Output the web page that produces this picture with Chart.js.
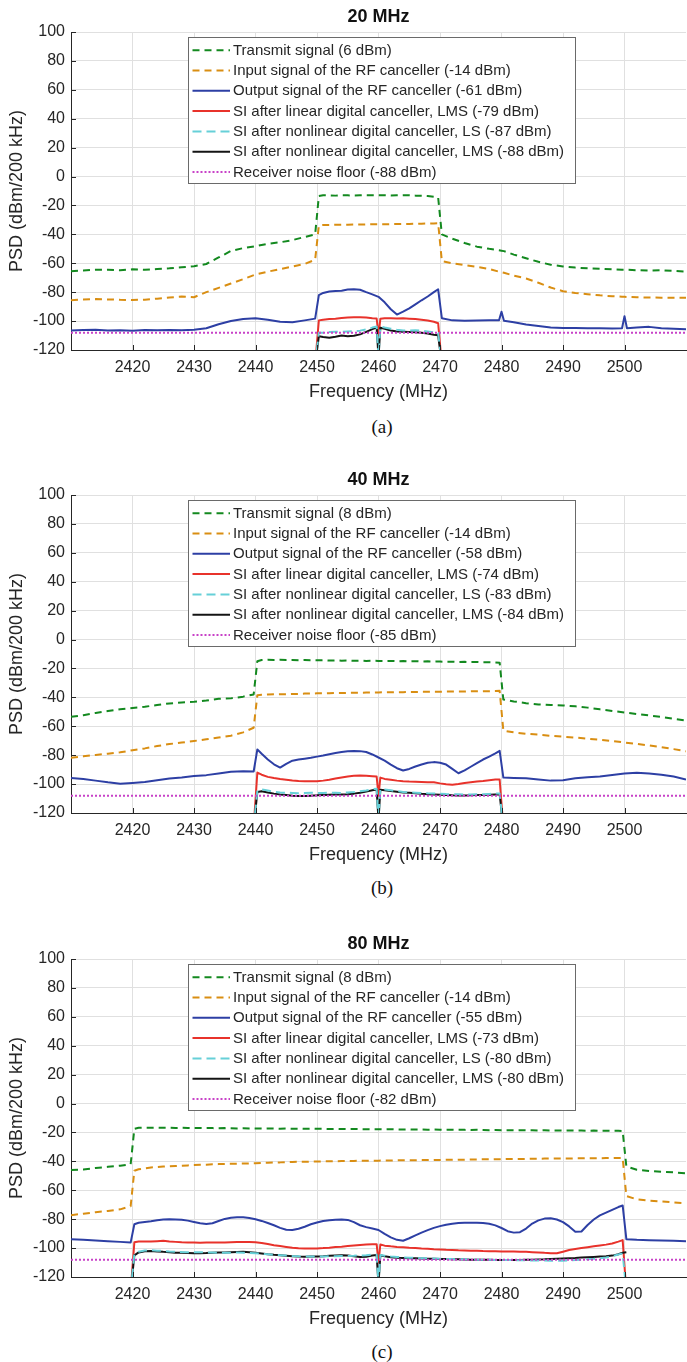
<!DOCTYPE html>
<html>
<head>
<meta charset="utf-8">
<title>SI cancellation PSD</title>
<script src="https://cdn.jsdelivr.net/npm/chart.js@4.4.0/dist/chart.umd.min.js"></script>
<style>
  body { margin: 0; background: #fff; }
  #page { position: relative; width: 687px; height: 1362px; overflow: hidden; }
  #page canvas { position: absolute; left: 0; }
  .cap { position: absolute; left: 342px; width: 80px; text-align: center;
         font: 19px/20px "Liberation Serif", "Times New Roman", serif; color: #111; }
</style>
</head>
<body>
<div id="page">
  <canvas id="psd20" width="687" height="410" style="top:0px"></canvas>
  <div class="cap" style="top:417px">(a)</div>
  <canvas id="psd40" width="687" height="410" style="top:463px"></canvas>
  <div class="cap" style="top:878px">(b)</div>
  <canvas id="psd80" width="687" height="410" style="top:927px"></canvas>
  <div class="cap" style="top:1342px">(c)</div>
</div>
<script>
// ---- 20 MHz bandwidth ----
const freqA = [2410, 2412, 2414, 2416, 2418, 2420, 2422, 2424, 2426, 2428, 2430, 2432, 2434, 2436, 2438, 2440, 2442, 2444, 2446, 2448,
  2449.7, 2450.3, 2451, 2452, 2453, 2454, 2455, 2456, 2457, 2458, 2459, 2460, 2461, 2462, 2463, 2464, 2465, 2466, 2467, 2468, 2469,
  2469.7, 2470.3, 2472, 2474, 2476, 2478, 2479.6, 2480, 2480.4, 2482, 2484, 2486, 2488, 2490, 2492, 2494, 2496, 2498,
  2499.6, 2500, 2500.4, 2502, 2504, 2506, 2508, 2510];
const txA = [-65.5, -65, -64.5, -64.5, -64.8, -64.2, -64.5, -64, -63.5, -62.8, -62, -60.5, -56, -51.5, -49.5, -48.2, -46.5, -45.5, -44, -41.8,
  -40, -13.5, -13, -13, -13.2, -12.9, -13, -13.1, -13, -12.9, -13, -13, -13, -13.1, -13, -12.9, -13, -13.2, -13.3, -13.5, -14,
  -14.5, -40, -43, -46, -48.5, -50, -51, -51.3, -51.6, -54, -56.5, -59, -61, -62.2, -63, -63.5, -63.8, -64.2,
  -64.5, -64.5, -64.5, -64.8, -65, -64.8, -65.3, -65.8];
const rfInA = [-85.5, -85, -84.8, -85, -85.3, -85.4, -85.2, -84.5, -83.7, -83, -83.5, -80, -77, -74, -71, -67.8, -65.8, -64, -62.3, -60.5,
  -57.5, -34, -33.5, -33.5, -33.4, -33.3, -33.3, -33.2, -33.2, -33.1, -33, -33, -33, -32.9, -32.9, -32.8, -32.8, -32.7, -32.6, -32.5, -32.4,
  -32.3, -58.5, -60, -61.3, -62.5, -64, -65.8, -66.2, -66.6, -68.5, -70.5, -73.5, -76.8, -79.3, -80.5, -81.4, -82.2, -82.8,
  -83.1, -83.2, -83.3, -83.5, -83.7, -83.8, -83.8, -83.8];
const rfOutA = [-106.5, -106.2, -106, -106.5, -106.3, -106.6, -106.2, -106.4, -106.2, -106.3, -106, -105, -102.2, -100, -98.5, -98, -99, -100.5, -100.8, -99.5,
  -98.3, -82, -80.5, -79.5, -79.2, -79, -78.2, -77.9, -78.3, -80, -81.5, -83.2, -87, -91.8, -95.5, -93.5, -91.2, -88.4, -85.6, -83, -80,
  -78, -98, -99.5, -99.8, -99.6, -99.5, -99.4, -93.5, -99.8, -100.8, -102.3, -103.4, -104.4, -104.7, -104.8, -104.9, -105, -105.2,
  -105, -96.6, -105, -104.5, -104, -105, -105.3, -105.6];
const bandA = [2449.7, 2450.3, 2451, 2452, 2453, 2454, 2455, 2456, 2457, 2458, 2459, 2459.7, 2460, 2460.3,
  2461, 2462, 2463, 2464, 2465, 2466, 2467, 2468, 2469, 2469.7, 2470.3];
const linA = [-130, -99.5, -99, -98.5, -98.3, -97.8, -97.6, -97.4, -97.3, -97.5, -98, -98.2, -110, -98.4,
  -98, -98, -98.2, -98.1, -98.3, -98.6, -99, -99.6, -100.5, -101.5, -130];
const nlLsA = [-130, -108, -108, -107.6, -107.4, -107.4, -107.2, -107, -106.6, -105.8, -104.5, -103.8, -125, -103.8,
  -104.5, -105.3, -106, -106.5, -106.5, -106.3, -106.6, -107.2, -107.8, -108.2, -130];
const nlLmsA = [-130, -110.5, -111, -111.5, -110.8, -110, -110.5, -110.2, -109.2, -107.5, -105.5, -104.5, -125, -104.6,
  -105.3, -106.5, -107.2, -107.4, -107.6, -107.8, -108.1, -108.6, -109.4, -109.8, -130];
const powerA = [6, -14, -61, -79, -87, -88, -88];

// ---- 40 MHz bandwidth ----
const freqB = [2410, 2412, 2414, 2416, 2418, 2420, 2422, 2424, 2426, 2428, 2430, 2432, 2434, 2436, 2438, 2439.7, 2440.3,
  2441, 2442, 2443, 2444, 2445, 2446, 2447, 2448, 2449, 2450, 2451, 2452, 2453, 2454, 2455, 2456, 2457, 2458, 2459, 2460,
  2461, 2462, 2463, 2464, 2465, 2466, 2467, 2468, 2469, 2470, 2471, 2472, 2473, 2474, 2475, 2476, 2477, 2478, 2479,
  2479.7, 2480.3, 2482, 2484, 2486, 2488, 2490, 2492, 2494, 2496, 2498, 2500, 2502, 2504, 2506, 2508, 2510];
const txB = [-53.5, -52.3, -50.8, -49.5, -48.2, -47.4, -46.5, -45.3, -44.2, -43.5, -43, -42.2, -41, -40.7, -39.5, -38, -15,
  -14.2, -14, -14.1, -14, -14.2, -14.1, -14.3, -14.2, -14.3, -14.4, -14.3, -14.5, -14.4, -14.6, -14.5, -14.7, -14.6, -14.8, -14.7, -14.8,
  -14.9, -14.8, -15, -14.9, -15.1, -15, -15.2, -15.1, -15.3, -15.2, -15.4, -15.3, -15.5, -15.4, -15.6, -15.5, -15.7, -15.7, -15.8,
  -16, -41.5, -42.8, -44, -44.9, -45.3, -45.6, -46.2, -47.1, -48.3, -49.4, -50.5, -51.5, -52.5, -53.6, -54.8, -56];
const rfInB = [-81.8, -80.8, -79.8, -79, -78, -76.6, -75.3, -73.7, -72.3, -71.3, -70.2, -69, -67.8, -66.5, -64.2, -61, -38.5,
  -38.2, -38, -37.9, -37.8, -37.8, -37.6, -37.6, -37.4, -37.4, -37.2, -37.2, -37.1, -37, -37, -36.9, -36.8, -36.8, -36.7, -36.7, -36.6,
  -36.5, -36.5, -36.4, -36.4, -36.3, -36.3, -36.2, -36.2, -36.1, -36.1, -36, -36, -35.9, -35.9, -35.8, -35.8, -35.7, -35.7, -35.6,
  -35.5, -63, -64.2, -65.2, -65.8, -66.6, -67.2, -67.8, -68.6, -69.4, -70.3, -71.2, -72.2, -73.3, -74.5, -75.8, -77.3];
const rfOutB = [-95.7, -96.5, -97.6, -98.8, -99.8, -99.2, -98.5, -97.3, -96.2, -95.4, -94.4, -93.8, -92.6, -91.4, -91.2, -91.3, -76,
  -79, -83, -86.3, -88.6, -86, -83.8, -83, -82.4, -81.8, -81, -80.2, -79.3, -78.5, -77.8, -77.3, -77.1, -77.2, -77.8, -79.5, -81.6,
  -83.8, -86.5, -89, -90.6, -89.5, -87.8, -86.4, -85.3, -84.8, -85.2, -86.5, -89.5, -92.5, -90.5, -88, -85.5, -83, -81, -78.8,
  -77, -95.5, -95.7, -95.9, -96.8, -97.6, -97.4, -96, -95.2, -94.7, -93.7, -92.6, -92.2, -92.7, -93.5, -94.8, -96.8];
const bandB = [2439.7, 2440.3, 2441, 2442, 2443, 2444, 2445, 2446, 2447, 2448, 2449, 2450, 2451, 2452, 2453, 2454, 2455, 2456, 2457, 2458, 2459,
  2459.7, 2460, 2460.3, 2461, 2462, 2463, 2464, 2465, 2466, 2467, 2468, 2469, 2470, 2471, 2472, 2473, 2474, 2475, 2476, 2477, 2478, 2479,
  2479.7, 2480.3];
const linB = [-130, -92, -93.5, -95, -95.8, -96.5, -97, -97.5, -97.9, -98, -98.1, -98, -97.6, -97, -96.2, -95.4, -94.7, -94.3, -94.1, -94.2, -94.5,
  -94.8, -108, -95.5, -96.4, -97, -97.6, -98, -98.2, -98.3, -98.5, -98.7, -98.8, -99.5, -100.1, -100.4, -100, -99.2, -98.7, -98.2, -97.8, -97.3, -96.9,
  -96.8, -130];
const nlLsB = [-130, -104.5, -103.7, -104.5, -105.3, -105.8, -106, -106.1, -106.3, -106.2, -106, -106.2, -106.1, -106, -106, -106.1, -105.8, -105.5, -105, -104.4, -103.5,
  -103.2, -125, -103.4, -103.7, -104.3, -104.9, -105.4, -105.8, -106, -106.2, -106.4, -106.5, -106.7, -106.9, -107, -107.1, -107.2, -107.2, -107.1, -107, -106.8, -106.6,
  -106.5, -130];
const nlLmsB = [-130, -105.5, -104.9, -105.8, -106.6, -107.2, -107.5, -108, -108.3, -108.2, -108, -107.8, -107.5, -107.3, -107.2, -107.2, -107, -106.6, -106, -105.2, -104.2,
  -103.7, -125, -103.9, -104.3, -104.8, -105.3, -105.8, -106, -106.3, -106.7, -107, -107.2, -107.4, -107.6, -107.8, -107.9, -107.9, -107.8, -107.6, -107.5, -107.3, -107.2,
  -107.2, -130];
const powerB = [8, -14, -58, -74, -83, -84, -85];

// ---- 80 MHz bandwidth ----
const freqC = [2410, 2412, 2414, 2416, 2418, 2419.7, 2420.3,
  2421, 2422, 2423, 2424, 2425, 2426, 2427, 2428, 2429, 2430, 2431, 2432, 2433, 2434, 2435, 2436, 2437, 2438, 2439, 2440,
  2441, 2442, 2443, 2444, 2445, 2446, 2447, 2448, 2449, 2450, 2451, 2452, 2453, 2454, 2455, 2456, 2457, 2458, 2459, 2460,
  2461, 2462, 2463, 2464, 2465, 2466, 2467, 2468, 2469, 2470, 2471, 2472, 2473, 2474, 2475, 2476, 2477, 2478, 2479, 2480,
  2481, 2482, 2483, 2484, 2485, 2486, 2487, 2488, 2489, 2490, 2491, 2492, 2493, 2494, 2495, 2496, 2497, 2498, 2499,
  2499.7, 2500.3, 2502, 2504, 2506, 2508, 2510];
const txC = [-46, -45.6, -44.6, -43.8, -43, -42, -17.5,
  -16.8, -16.7, -16.8, -16.7, -16.8, -16.8, -16.9, -16.8, -16.9, -17, -16.9, -17, -17, -17.1, -17, -17.1, -17.2, -17.1, -17.2, -17.2,
  -17.3, -17.2, -17.3, -17.4, -17.3, -17.4, -17.4, -17.5, -17.4, -17.5, -17.5, -17.6, -17.5, -17.6, -17.7, -17.6, -17.7, -17.7, -17.8, -17.8,
  -17.9, -17.8, -17.9, -18, -17.9, -18, -18, -18.1, -18, -18.1, -18.2, -18.1, -18.2, -18.2, -18.3, -18.2, -18.3, -18.4, -18.3, -18.4,
  -18.4, -18.5, -18.4, -18.5, -18.5, -18.6, -18.5, -18.6, -18.6, -18.7, -18.6, -18.7, -18.7, -18.8, -18.7, -18.8, -18.8, -18.9, -18.9,
  -19, -43.5, -45.8, -46.6, -47.2, -47.6, -48.3];
const rfInC = [-77.2, -76.2, -75.2, -74.3, -73.2, -71, -46.5,
  -45.5, -44.8, -44.2, -43.9, -43.6, -43.4, -43.2, -43, -42.8, -42.6, -42.4, -42.3, -42, -41.9, -41.8, -41.7, -41.6, -41.5, -41.4, -41.3,
  -41.1, -41, -40.8, -40.7, -40.5, -40.4, -40.3, -40.3, -40.2, -40.1, -40, -40, -39.9, -39.8, -39.8, -39.7, -39.6, -39.6, -39.5, -39.5,
  -39.4, -39.4, -39.3, -39.3, -39.2, -39.2, -39.1, -39.1, -39, -39, -38.9, -38.9, -38.8, -38.8, -38.7, -38.7, -38.6, -38.6, -38.5, -38.5,
  -38.4, -38.4, -38.3, -38.3, -38.2, -38.2, -38.1, -38.1, -38, -38, -38, -37.9, -37.9, -37.8, -37.8, -37.8, -37.7, -37.7, -37.6,
  -37.6, -64, -66.3, -67.2, -67.8, -68.4, -69];
const rfOutC = [-93.9, -94.3, -94.8, -95.2, -95.7, -96.2, -83.5,
  -82.5, -82, -81.5, -80.8, -80.3, -80.1, -80.2, -80.4, -81, -81.9, -82.8, -83.3, -82.8, -81.3, -79.8, -79, -78.7, -78.7, -79.2, -80,
  -81.2, -82.6, -84.2, -86, -87.3, -87.5, -86.6, -85.2, -83.5, -82.3, -81.3, -80.7, -80.4, -80.3, -80.5, -82, -84.2, -85.5, -86.5, -87.5,
  -90.2, -92.6, -94.3, -94.9, -93.2, -91.2, -89.3, -87.6, -86, -84.8, -83.8, -83.1, -82.7, -82.5, -82.4, -82.4, -82.7, -83.2, -84.3, -86.1,
  -88.3, -89.3, -89, -86.5, -83, -80.8, -79.6, -79.4, -80.2, -82, -85, -88.7, -88.5, -84, -80.2, -77.4, -75.5, -73.5, -71.6,
  -70.5, -93.8, -94.3, -94.5, -94.8, -95, -95.3];
const bandC = [2419.7, 2420.3,
  2421, 2422, 2423, 2424, 2425, 2426, 2427, 2428, 2429, 2430, 2431, 2432, 2433, 2434, 2435, 2436, 2437, 2438, 2439, 2440,
  2441, 2442, 2443, 2444, 2445, 2446, 2447, 2448, 2449, 2450, 2451, 2452, 2453, 2454, 2455, 2456, 2457, 2458, 2459,
  2459.7, 2460, 2460.3,
  2461, 2462, 2463, 2464, 2465, 2466, 2467, 2468, 2469, 2470, 2471, 2472, 2473, 2474, 2475, 2476, 2477, 2478, 2479, 2480,
  2481, 2482, 2483, 2484, 2485, 2486, 2487, 2488, 2489, 2490, 2491, 2492, 2493, 2494, 2495, 2496, 2497, 2498, 2499,
  2499.7, 2500.3];
const linC = [-130, -96,
  -95.5, -95.4, -95.5, -95.2, -95, -95.4, -95.7, -96, -96.2, -96.2, -96.3, -96.2, -96.1, -96.2, -96.2, -96, -95.8, -95.7, -95.8, -96,
  -96.5, -97.2, -98, -98.6, -99.2, -99.8, -100.1, -100.3, -100.2, -100.2, -100, -99.7, -99.3, -99, -98.6, -98.2, -97.8, -97.5, -97.3,
  -97.3, -110, -97.5,
  -98.3, -98.8, -99.2, -99.5, -99.8, -100, -100.3, -100.5, -100.8, -101, -101.2, -101.3, -101.5, -101.6, -101.8, -101.8, -102, -102.1, -102.2, -102.3,
  -102.3, -102.4, -102.5, -102.6, -102.8, -103, -103.3, -103.5, -103.6, -102.5, -101.3, -100.6, -100, -99.4, -98.8, -98.2, -97.6, -96.8, -95.5,
  -94.5, -130];
const nlLsC = [-130, -104,
  -102.5, -101.7, -101.5, -101.8, -102, -102.3, -102.5, -102.7, -102.8, -102.8, -102.9, -103, -103.1, -103.2, -103.3, -103.2, -103.1, -103.2, -103.4, -103.6,
  -104, -104.3, -104.6, -104.9, -105.2, -105.5, -105.7, -105.8, -105.9, -105.9, -105.8, -105.7, -105.6, -105.5, -105.4, -105.3, -105.1, -104.9, -104.6,
  -104.5, -125, -104.7,
  -105.3, -105.8, -106.1, -106.4, -106.6, -106.8, -107, -107.1, -107.2, -107.4, -107.5, -107.6, -107.7, -107.8, -107.9, -108, -108.1, -108.1, -108.2, -108.2,
  -108.3, -108.3, -108.4, -108.5, -108.5, -108.6, -108.6, -108.7, -108.7, -108.7, -108.5, -108.3, -108, -107.7, -107.4, -107, -106.5, -105.6, -104.4,
  -103.6, -130];
const nlLmsC = [-130, -105,
  -103, -102.2, -102, -102.3, -102.6, -102.8, -103.2, -103.3, -103.4, -103.6, -103.5, -103.4, -103.2, -103.1, -103, -102.8, -102.7, -102.6, -102.8, -103.2,
  -103.7, -104.2, -104.6, -104.9, -105.3, -105.7, -105.9, -106, -105.9, -105.8, -105.6, -105.3, -105.1, -105, -105.2, -105.7, -106.2, -106, -105.2,
  -104.8, -125, -105,
  -105.7, -106.3, -106.6, -106.8, -107, -107.1, -107.2, -107.3, -107.4, -107.5, -107.6, -107.7, -107.8, -107.9, -108, -108.1, -108.1, -108.1, -108.2, -108.2,
  -108.2, -108.2, -108.2, -108.1, -108, -107.9, -107.8, -107.6, -107.4, -107.2, -107, -106.8, -106.5, -106.3, -106.1, -105.9, -105.7, -105.2, -104.3, -103.2,
  -102.8, -130];
const powerC = [8, -14, -55, -73, -80, -80, -82];

// receiver noise floor, same in all three plots
const noiseFreq = [2410, 2510];
const noiseFloor = [-108, -108];

const seriesNames = [
  'Transmit signal',
  'Input signal of the RF canceller',
  'Output signal of the RF canceller',
  'SI after linear digital canceller, LMS',
  'SI after nonlinear digital canceller, LS',
  'SI after nonlinear digital canceller, LMS',
  'Receiver noise floor'
];

const FONT = "'Liberation Sans', Arial, Helvetica, sans-serif";
const AXIS_COLOR = '#262626';
const GRID_COLOR = '#e0e0e0';

const lineStyles = [
  { color: '#13891f', width: 2, dash: [7, 5] },
  { color: '#d98e12', width: 2, dash: [7, 5] },
  { color: '#2d3fa4', width: 2, dash: [] },
  { color: '#e8322b', width: 2, dash: [] },
  { color: '#66d0d8', width: 2, dash: [9, 5] },
  { color: '#141414', width: 2, dash: [] },
  { color: '#c842c8', width: 2, dash: [2, 2] }
];
// higher order is painted first; LS trace sits on top of the LMS one
const drawOrder = [7, 6, 5, 4, 2, 3, 1];

function pts(xs, ys) {
  return xs.map((x, i) => ({ x: x, y: ys[i] }));
}

// short tick marks pointing into the plot area
const innerTicks = {
  id: 'innerTicks',
  afterDatasetsDraw(chart) {
    const { ctx, chartArea: a, scales: { x, y } } = chart;
    ctx.save();
    ctx.strokeStyle = AXIS_COLOR;
    ctx.lineWidth = 1;
    ctx.beginPath();
    x.ticks.forEach(t => {
      const px = Math.round(x.getPixelForValue(t.value)) + 0.5;
      ctx.moveTo(px, a.bottom);
      ctx.lineTo(px, a.bottom - 5);
    });
    y.ticks.forEach(t => {
      const py = Math.round(y.getPixelForValue(t.value)) + 0.5;
      ctx.moveTo(a.left, py);
      ctx.lineTo(a.left + 5, py);
    });
    ctx.stroke();
    ctx.restore();
  }
};

// boxed legend inside the axes, top left
const boxLegend = {
  id: 'boxLegend',
  afterDraw(chart) {
    const { ctx, chartArea: a } = chart;
    const sets = chart.data.datasets;
    ctx.save();
    ctx.font = '15px ' + FONT;
    const left = Math.round(a.left + 117) + 0.5;
    const top = Math.round(a.top + 5) + 0.5;
    const rowH = 20.3;
    const textX = left + 44.5;
    const w = Math.round(Math.max(...sets.map(d => ctx.measureText(d.label).width)) + 44.5 + 12);
    const h = Math.round(rowH * sets.length + 4);
    ctx.fillStyle = '#fff';
    ctx.fillRect(left, top, w, h);
    ctx.strokeStyle = '#6a6a6a';
    ctx.lineWidth = 1;
    ctx.strokeRect(left, top, w, h);
    sets.forEach((d, i) => {
      const cy = top + 12.7 + i * rowH;
      ctx.strokeStyle = d.borderColor;
      ctx.lineWidth = d.borderWidth;
      ctx.setLineDash(d.borderDash);
      ctx.beginPath();
      ctx.moveTo(left + 4, cy);
      ctx.lineTo(left + 41.5, cy);
      ctx.stroke();
      ctx.setLineDash([]);
      ctx.fillStyle = AXIS_COLOR;
      ctx.textBaseline = 'middle';
      ctx.fillText(d.label, textX, cy + 0.5);
    });
    ctx.restore();
  }
};

function psdChart(canvasId, title, freq, tx, rfIn, rfOut, band, lin, nlLs, nlLms, power) {
  const traces = [
    pts(freq, tx), pts(freq, rfIn), pts(freq, rfOut),
    pts(band, lin), pts(band, nlLs), pts(band, nlLms),
    pts(noiseFreq, noiseFloor)
  ];
  const datasets = traces.map((data, i) => ({
    label: seriesNames[i] + ' (' + power[i] + ' dBm)',
    data: data,
    borderColor: lineStyles[i].color,
    borderWidth: lineStyles[i].width,
    borderDash: lineStyles[i].dash,
    borderJoinStyle: 'round',
    pointRadius: 0,
    tension: 0,
    fill: false,
    order: drawOrder[i]
  }));

  return new Chart(document.getElementById(canvasId), {
    type: 'line',
    data: { datasets: datasets },
    options: {
      responsive: false,
      animation: false,
      devicePixelRatio: 1,
      layout: { padding: { left: 0, right: 1, top: 0, bottom: 0 } },
      plugins: {
        legend: { display: false },
        tooltip: { enabled: false },
        title: {
          display: true,
          fullSize: false,
          text: title,
          color: '#111',
          font: { family: FONT, size: 18, weight: 'bold', lineHeight: 1.2 },
          padding: { top: 6.4, bottom: 4 }
        }
      },
      scales: {
        x: {
          type: 'linear',
          min: 2410,
          max: 2510,
          afterBuildTicks: s => { s.ticks = s.ticks.filter(t => t.value > 2410 && t.value < 2510); },
          afterFit: s => { s.height = 60; },
          ticks: { stepSize: 10, padding: 8, color: AXIS_COLOR, font: { family: FONT, size: 16 },
                   callback: v => String(v) },
          grid: { color: GRID_COLOR, drawTicks: false },
          border: { display: true, color: AXIS_COLOR, width: 1 },
          title: { display: true, text: 'Frequency (MHz)', color: AXIS_COLOR,
                   font: { family: FONT, size: 18 }, padding: { top: 0, bottom: 7.5 } }
        },
        y: {
          min: -120,
          max: 100,
          afterFit: s => { s.width = 71; },
          ticks: { stepSize: 20, padding: 6, color: AXIS_COLOR, font: { family: FONT, size: 16 } },
          grid: { color: GRID_COLOR, drawTicks: false },
          border: { display: true, color: AXIS_COLOR, width: 1 },
          title: { display: true, text: 'PSD (dBm/200 kHz)', color: AXIS_COLOR,
                   font: { family: FONT, size: 18 }, padding: { top: 6.2, bottom: 0 } }
        }
      }
    },
    plugins: [innerTicks, boxLegend]
  });
}

psdChart('psd20', '20 MHz', freqA, txA, rfInA, rfOutA, bandA, linA, nlLsA, nlLmsA, powerA);
psdChart('psd40', '40 MHz', freqB, txB, rfInB, rfOutB, bandB, linB, nlLsB, nlLmsB, powerB);
psdChart('psd80', '80 MHz', freqC, txC, rfInC, rfOutC, bandC, linC, nlLsC, nlLmsC, powerC);
</script>
</body>
</html>
